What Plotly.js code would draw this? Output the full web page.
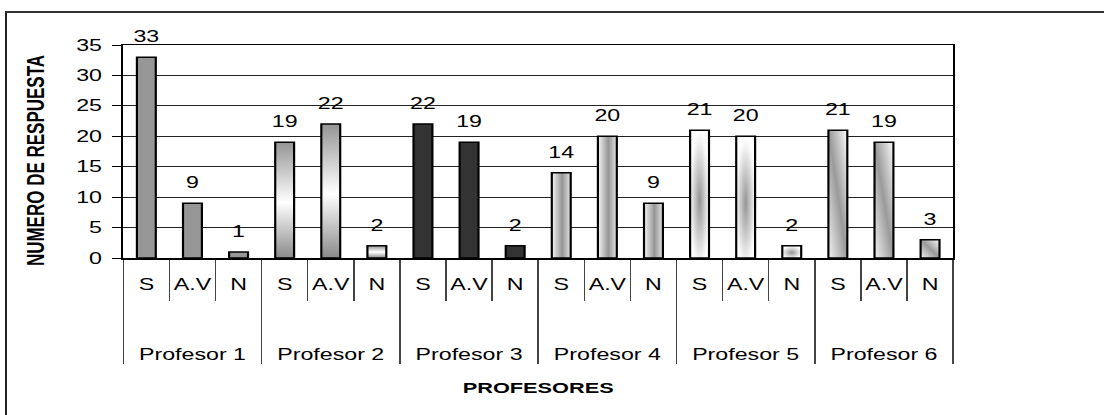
<!DOCTYPE html>
<html>
<head>
<meta charset="utf-8">
<script src="https://cdn.plot.ly/plotly-3.0.1.min.js"></script>
<style>
  html, body { margin: 0; padding: 0; background: #fff; overflow: hidden; }
  #frame { position: absolute; left: 5px; top: 11px; width: 1099px; height: 404px;
           border-top: 2px solid #333; border-left: 2px solid #222; box-sizing: border-box; }
  #wrap { position: absolute; left: 0; top: 0; width: 761px; height: 415px;
          transform: scaleX(1.4507); transform-origin: 0 0; }
</style>
</head>
<body>
<div id="frame"></div>
<div id="wrap"><div id="chart" style="width:761px;height:415px;"></div></div>
<script>
// ---- data ----
const profesores = ["Profesor 1", "Profesor 2", "Profesor 3", "Profesor 4", "Profesor 5", "Profesor 6"];
const respuestas = ["S", "A.V", "N"];
const valores = [
  [33, 9, 1],
  [19, 22, 2],
  [22, 19, 2],
  [14, 20, 9],
  [21, 20, 2],
  [21, 19, 3]
];
const yTitle = "NUMERO DE RESPUESTA";
const xTitle = "PROFESORES";

// ---- build arrays for the multicategory axis ----
// (invisible blank lines only give the label rows their spacing)
const padBefore = "\u00a0<br>\u00a0<br>";
const padAfter = "<br>\u00a0";
const outer = [], inner = [], ys = [], groupIdx = [];
profesores.forEach((p, i) => {
  respuestas.forEach((r, j) => {
    outer.push(p);
    inner.push(padBefore + r + padAfter);
    ys.push(valores[i][j]);
    groupIdx.push(i);
  });
});

const FONT = "Liberation Sans, Arial, sans-serif";

const bars = {
  type: "bar",
  x: [outer, inner],
  y: ys,
  marker: { color: "#999999", line: { color: "#000", width: 1.5 } },
  hoverinfo: "none",
  showlegend: false
};
const labels = {
  type: "scatter",
  mode: "markers+text",
  x: [outer, inner],
  y: ys,
  text: ys.map(String),
  textposition: "top center",
  textfont: { family: FONT, size: 16, color: "#000" },
  marker: { size: 16, opacity: 0 },
  cliponaxis: false,
  hoverinfo: "none",
  showlegend: false
};

const layout = {
  width: 761, height: 415,
  margin: { l: 85, r: 104, t: 45, b: 157 },
  paper_bgcolor: "rgba(0,0,0,0)",
  plot_bgcolor: "#fff",
  bargap: 0.59,
  font: { family: FONT, color: "#000" },
  xaxis: {
    type: "multicategory",
    range: [-0.5, outer.length - 0.5], autorange: false,
    tickangle: 0,
    showline: true, linecolor: "#000", linewidth: 1.5, mirror: true,
    ticks: "outside", tickson: "boundaries", ticklen: 41, tickcolor: "#444", tickwidth: 1,
    ticklabelstandoff: -30,
    showdividers: true, dividercolor: "#444", dividerwidth: 1,
    tickfont: { family: FONT, size: 16, color: "#000" },
    showgrid: false, zeroline: false,
    title: { text: xTitle, font: { family: FONT, size: 15, color: "#000", weight: "bold" }, standoff: 20 }
  },
  yaxis: {
    range: [0, 35], autorange: false, dtick: 5, tick0: 0,
    showgrid: true, gridcolor: "#222", gridwidth: 1,
    showline: true, linecolor: "#000", linewidth: 1.5, mirror: true,
    ticks: "outside", ticklen: 6, tickcolor: "#000", tickwidth: 1,
    ticklabelstandoff: 4,
    tickfont: { family: FONT, size: 16, color: "#000" },
    zeroline: false,
    title: { text: yTitle, font: { family: FONT, size: 17, color: "#000", weight: "bold" }, standoff: 17 }
  }
};

Plotly.newPlot("chart", [bars, labels], layout, { staticPlot: true, displayModeBar: false }).then(gd => {
  const svgNS = "http://www.w3.org/2000/svg";
  const svg = gd.querySelector("svg.main-svg");
  let defs = svg.querySelector("defs");
  if (!defs) { defs = document.createElementNS(svgNS, "defs"); svg.insertBefore(defs, svg.firstChild); }
  function addStops(g, stops) {
    stops.forEach(([o, c]) => {
      const s = document.createElementNS(svgNS, "stop");
      s.setAttribute("offset", o); s.setAttribute("stop-color", c);
      g.appendChild(s);
    });
    defs.appendChild(g);
  }
  function lin(id, x1, y1, x2, y2, stops) {
    const g = document.createElementNS(svgNS, "linearGradient");
    g.setAttribute("id", id);
    g.setAttribute("x1", x1); g.setAttribute("y1", y1);
    g.setAttribute("x2", x2); g.setAttribute("y2", y2);
    addStops(g, stops);
  }
  function rad(id, stops) {
    const g = document.createElementNS(svgNS, "radialGradient");
    g.setAttribute("id", id);
    g.setAttribute("cx", "0.5"); g.setAttribute("cy", "0.55"); g.setAttribute("r", "0.55");
    addStops(g, stops);
  }
  lin("gP2", 0, 0, 0, 1, [["0", "#959595"], ["0.52", "#ffffff"], ["1", "#8a8a8a"]]);
  lin("gP4", 0, 0, 1, 0, [["0", "#f6f6f6"], ["0.55", "#959595"], ["1", "#e4e4e4"]]);
  rad("gP5", [["0", "#959595"], ["0.85", "#f4f4f4"], ["1", "#ffffff"]]);
  lin("gP6", 1, 0, 0, 1, [["0", "#fbfbfb"], ["0.5", "#9a9a9a"], ["1", "#f2f2f2"]]);
  const fills = ["#969696", "url(#gP2)", "#333333", "url(#gP4)", "url(#gP5)", "url(#gP6)"];
  const paths = gd.querySelectorAll("g.trace.bars g.point path");
  paths.forEach((p, k) => { p.style.fill = fills[groupIdx[k]]; });
  // nudge the y-axis title slightly down, as in the reference
  const yt = gd.querySelector("g.g-ytitle");
  if (yt) yt.setAttribute("transform", "translate(0,9)");
});
</script>
</body>
</html>
